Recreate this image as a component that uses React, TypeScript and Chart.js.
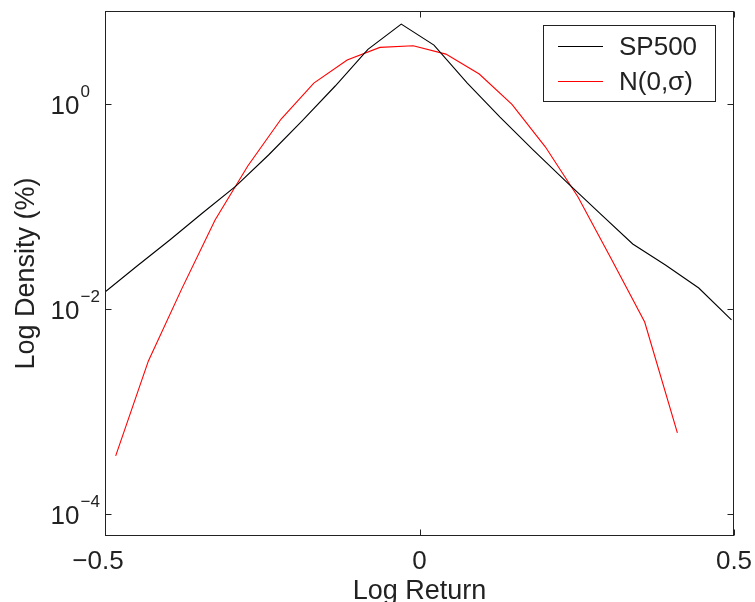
import React, { useEffect, useRef } from "react";
import { Chart, registerables } from "chart.js";

Chart.register(...registerables);

// Empirical log-return density of the S&P 500 (histogram bin centres)
const returnsSP500 = [
  -0.502, -0.45, -0.397, -0.345, -0.292, -0.24, -0.187, -0.134, -0.082, -0.029,
  0.023, 0.076, 0.128, 0.181, 0.234, 0.286, 0.339, 0.391, 0.444, 0.496,
];
const densitySP500 = [
  0.0142, 0.0258, 0.0468, 0.0859, 0.157, 0.316, 0.678, 1.49, 3.4, 5.99,
  3.74, 1.59, 0.742, 0.353, 0.172, 0.0859, 0.0428, 0.0267, 0.0159, 0.00776,
];

// Normal density with the same standard deviation
const returnsNormal = [
  -0.483, -0.431, -0.378, -0.325, -0.273, -0.22, -0.168, -0.115, -0.063, -0.01,
  0.042, 0.095, 0.147, 0.2, 0.252, 0.305, 0.358, 0.41,
];
const densityNormal = [
  0.000366, 0.00309, 0.0156, 0.0733, 0.247, 0.709, 1.59, 2.67, 3.55, 3.68,
  3.05, 1.95, 0.986, 0.38, 0.123, 0.0305, 0.00741, 0.000612,
];

const seriesNames = ["SP500", "N(0,\u03c3)"];
const seriesColors = ["#000000", "#ff0000"];

const xTicks = [-0.5, 0, 0.5];
const xTickLabels = ["\u22120.5", "0", "0.5"];
const yTickExponents = [0, -2, -4];
const yTickExponentLabels = ["0", "\u22122", "\u22124"];

const xTitle = "Log Return";
const yTitle = "Log Density (%)";

const FONT = "'Liberation Sans', Arial, Helvetica, sans-serif";

const axesPlugin = {
  id: "boxedAxes",
  afterDraw(chart: any) {
    const { ctx, chartArea } = chart;
    const { left, right, top, bottom } = chartArea;
    const xs = chart.scales.x;
    const ys = chart.scales.y;
    const L = Math.round(left) + 0.5;
    const R = Math.round(right) - 0.5;
    const T = Math.round(top) + 0.5;
    const B = Math.round(bottom) - 0.5;
    const tickLen = 6;

    ctx.save();
    ctx.strokeStyle = "#222";
    ctx.lineWidth = 1;
    ctx.strokeRect(L, T, R - L, B - T);

    // inward ticks on all four sides
    ctx.beginPath();
    xTicks.forEach((v) => {
      const px = Math.round(xs.getPixelForValue(v)) + 0.5;
      ctx.moveTo(px, B);
      ctx.lineTo(px, B - tickLen);
      ctx.moveTo(px, T);
      ctx.lineTo(px, T + tickLen);
    });
    yTickExponents.forEach((e) => {
      const py = Math.round(ys.getPixelForValue(Math.pow(10, e))) + 0.5;
      ctx.moveTo(L, py);
      ctx.lineTo(L + tickLen, py);
      ctx.moveTo(R, py);
      ctx.lineTo(R - tickLen, py);
    });
    ctx.stroke();

    ctx.fillStyle = "#222";
    // x tick labels; a leading minus sign sits left of the tick
    ctx.font = `26px ${FONT}`;
    ctx.textAlign = "center";
    ctx.textBaseline = "alphabetic";
    xTicks.forEach((v, i) => {
      const shift = v < 0 ? -7 : 0;
      ctx.fillText(xTickLabels[i], xs.getPixelForValue(v) + shift, B + 33);
    });

    // y tick labels as 10 with a raised exponent
    yTickExponents.forEach((e, i) => {
      const py = ys.getPixelForValue(Math.pow(10, e));
      ctx.font = `26px ${FONT}`;
      ctx.textAlign = "right";
      ctx.fillText("10", L - 26, py + 10.5);
      ctx.font = `17px ${FONT}`;
      ctx.textAlign = "left";
      ctx.fillText(yTickExponentLabels[i], L - 25, py - 6.5);
    });

    // axis titles
    ctx.font = `27px ${FONT}`;
    ctx.textAlign = "center";
    ctx.fillText(xTitle, (left + right) / 2, 599);
    ctx.save();
    ctx.translate(34, (top + bottom) / 2);
    ctx.rotate(-Math.PI / 2);
    ctx.fillText(yTitle, 0, 0);
    ctx.restore();

    // legend box
    const bx = 543.5;
    const by = 25.5;
    const bw = 172;
    const bh = 76;
    ctx.fillStyle = "#ffffff";
    ctx.fillRect(bx, by, bw, bh);
    ctx.strokeStyle = "#222";
    ctx.strokeRect(bx, by, bw, bh);
    const rowY = [46.5, 81.5];
    const textY = [55, 90];
    seriesNames.forEach((name, i) => {
      ctx.strokeStyle = seriesColors[i];
      ctx.beginPath();
      ctx.moveTo(558, rowY[i]);
      ctx.lineTo(603, rowY[i]);
      ctx.stroke();
      ctx.fillStyle = "#222";
      ctx.font = `26px ${FONT}`;
      ctx.textAlign = "left";
      ctx.fillText(name, 619, textY[i]);
    });
    ctx.restore();
  },
};

export default function App() {
  const canvasRef = useRef<HTMLCanvasElement | null>(null);

  useEffect(() => {
    const canvas = canvasRef.current;
    if (!canvas) return;
    const chart = new Chart(canvas, {
      type: "line",
      data: {
        datasets: [
          {
            label: seriesNames[0],
            data: returnsSP500.map((x, i) => ({ x, y: densitySP500[i] })),
            borderColor: seriesColors[0],
            borderWidth: 1.1,
            pointRadius: 0,
            tension: 0,
            fill: false,
          },
          {
            label: seriesNames[1],
            data: returnsNormal.map((x, i) => ({ x, y: densityNormal[i] })),
            borderColor: seriesColors[1],
            borderWidth: 1.1,
            pointRadius: 0,
            tension: 0,
            fill: false,
          },
        ],
      },
      options: {
        responsive: false,
        animation: false,
        events: [],
        layout: { padding: { top: 11, right: 21, left: 0, bottom: 0 } },
        plugins: {
          legend: { display: false },
          tooltip: { enabled: false },
          title: { display: false },
        },
        scales: {
          x: {
            type: "linear",
            min: -0.5,
            max: 0.5,
            bounds: "data",
            grid: { display: false },
            border: { display: false },
            ticks: { display: false },
            afterFit: (scale: any) => {
              scale.height = 66;
            },
          },
          y: {
            type: "logarithmic",
            min: 6.04e-5,
            max: 8.04,
            bounds: "data",
            grid: { display: false },
            border: { display: false },
            ticks: { display: false },
            afterFit: (scale: any) => {
              scale.width = 105;
            },
          },
        },
      },
      plugins: [axesPlugin],
    });
    return () => chart.destroy();
  }, []);

  return (
    <div
      style={{
        position: "fixed",
        left: 0,
        top: 0,
        width: 755,
        height: 602,
        background: "#ffffff",
      }}
    >
      <canvas ref={canvasRef} width={755} height={602} style={{ display: "block" }} />
    </div>
  );
}
